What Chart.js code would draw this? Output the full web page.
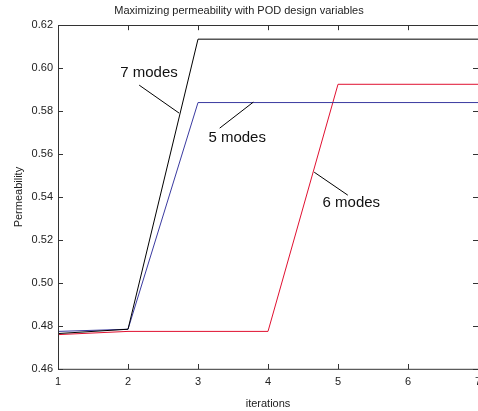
<!DOCTYPE html>
<html>
<head>
<meta charset="utf-8">
<script src="https://cdn.jsdelivr.net/npm/chart.js@4"></script>
<style>
  html, body { margin: 0; padding: 0; background: #fff; overflow: hidden; }
  #wrap { width: 500px; height: 411px; }
</style>
</head>
<body>
<div id="wrap"><canvas id="perm-chart" width="500" height="411"></canvas></div>
<script>
const iterations = [1, 2, 3, 4, 5, 6, 7];
const modes7 = [0.4765, 0.4785, 0.6135, 0.6135, 0.6135, 0.6135, 0.6135];
const modes5 = [0.4775, 0.4785, 0.5840, 0.5840, 0.5840, 0.5840, 0.5840];
const modes6 = [0.4760, 0.4775, 0.4775, 0.4775, 0.5925, 0.5925, 0.5925];
const yTicks = [0.46, 0.48, 0.5, 0.52, 0.54, 0.56, 0.58, 0.6, 0.62];

// callout labels: text, text centre, leader line start/end (data units)
const calloutText = ['7 modes', '5 modes', '6 modes'];
const calloutAt   = [[2.30, 0.5977], [3.56, 0.5674], [5.19, 0.5372]];
const calloutFrom = [[2.16, 0.5921], [3.31, 0.5721], [5.14, 0.5409]];
const calloutTo   = [[2.73, 0.5791], [3.79, 0.5842], [4.66, 0.5516]];

const FONT = 'Liberation Sans, Arial, sans-serif';

const matlabBox = {
  id: 'matlabBox',
  afterDatasetsDraw(chart) {
    const { ctx, chartArea: a, scales: { x, y } } = chart;
    ctx.save();
    ctx.strokeStyle = '#333';
    ctx.lineWidth = 1;
    ctx.beginPath();
    ctx.rect(Math.round(a.left) + 0.5, Math.round(a.top) + 0.5, a.right - a.left, a.bottom - a.top);
    ctx.stroke();
    ctx.beginPath();
    iterations.forEach(v => {
      const px = Math.round(x.getPixelForValue(v)) + 0.5;
      ctx.moveTo(px, a.bottom); ctx.lineTo(px, a.bottom - 5);
      ctx.moveTo(px, a.top);    ctx.lineTo(px, a.top + 5);
    });
    yTicks.forEach(v => {
      const py = Math.round(y.getPixelForValue(v)) + 0.5;
      ctx.moveTo(a.left, py);  ctx.lineTo(a.left + 5, py);
      ctx.moveTo(a.right, py); ctx.lineTo(a.right - 5, py);
    });
    ctx.stroke();

    // callouts
    ctx.strokeStyle = '#000';
    ctx.fillStyle = '#111';
    ctx.font = '15px ' + FONT;
    ctx.textAlign = 'center';
    ctx.textBaseline = 'middle';
    calloutText.forEach((t, i) => {
      ctx.beginPath();
      ctx.moveTo(x.getPixelForValue(calloutFrom[i][0]), y.getPixelForValue(calloutFrom[i][1]));
      ctx.lineTo(x.getPixelForValue(calloutTo[i][0]), y.getPixelForValue(calloutTo[i][1]));
      ctx.stroke();
      ctx.fillText(t, x.getPixelForValue(calloutAt[i][0]), y.getPixelForValue(calloutAt[i][1]));
    });
    ctx.restore();
  }
};

const line = (label, data, color) => ({
  label, data, borderColor: color, backgroundColor: color,
  borderWidth: 1, pointRadius: 0, tension: 0, fill: false,
});

new Chart(document.getElementById('perm-chart'), {
  type: 'line',
  data: {
    datasets: [
      line('7 modes', iterations.map((v, i) => ({ x: v, y: modes7[i] })), '#000000'),
      line('5 modes', iterations.map((v, i) => ({ x: v, y: modes5[i] })), '#3a3aa0'),
      line('6 modes', iterations.map((v, i) => ({ x: v, y: modes6[i] })), '#e01030'),
    ],
  },
  options: {
    responsive: false,
    animation: false,
    layout: { padding: { left: 0, right: 22, top: 0, bottom: 0 } },
    plugins: {
      legend: { display: false },
      tooltip: { enabled: false },
      title: {
        display: true,
        text: 'Maximizing permeability with POD design variables',
        color: '#222',
        font: { family: FONT, size: 11, weight: 'normal' },
        padding: { top: 4, bottom: 8 },
      },
    },
    scales: {
      x: {
        type: 'linear',
        min: 1, max: 7,
        grid: { display: false, drawTicks: false },
        border: { display: false },
        afterFit: s => { s.height = 42; },
        ticks: {
          stepSize: 1, color: '#222', padding: 6,
          font: { family: FONT, size: 11 },
        },
        title: {
          display: true, text: 'iterations', color: '#222',
          font: { family: FONT, size: 11 }, padding: { top: 0, bottom: 0 },
        },
      },
      y: {
        min: 0.46, max: 0.62,
        grid: { display: false, drawTicks: false },
        border: { display: false },
        afterFit: s => { s.width = 58; },
        afterBuildTicks: s => { s.ticks = yTicks.map(v => ({ value: v })); },
        ticks: {
          color: '#222', padding: 5,
          font: { family: FONT, size: 11 },
          callback: v => v.toFixed(2),
        },
        title: {
          display: true, text: 'Permeability', color: '#222',
          font: { family: FONT, size: 11 }, padding: { top: 12, bottom: 4 },
        },
      },
    },
  },
  plugins: [matlabBox],
});
</script>
</body>
</html>
